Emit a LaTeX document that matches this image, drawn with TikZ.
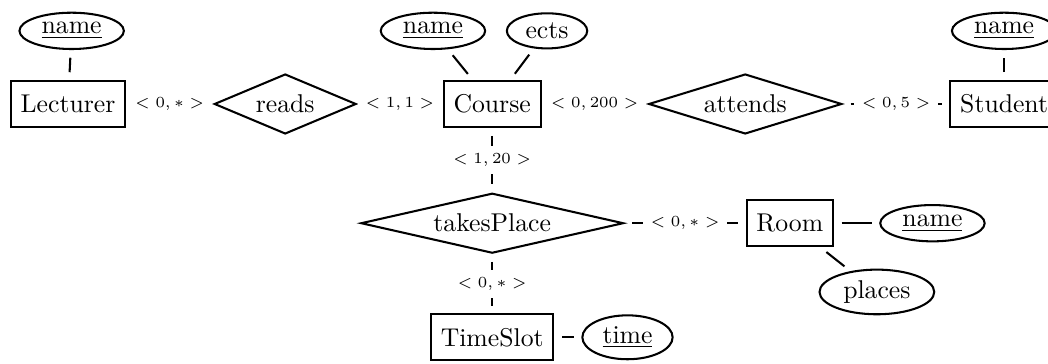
\documentclass[tikz,border=0pt]{standalone}
\usetikzlibrary{shapes.geometric}

\begin{document}
\begin{tikzpicture}[
                thick,
                node distance=3cm,
                entity/.style={rectangle, draw, minimum height=6.3mm, inner xsep=3.8pt},
                relation/.style={diamond, draw, aspect=3, inner sep=0pt, minimum height=8.2mm},
                attribute/.style={ellipse, draw, inner xsep=2.7pt, inner ysep=1.7pt},
                card/.style={fill=white, font=\fontsize{6.2}{7}\selectfont, inner sep=3pt},
                every edge/.style={draw, shorten <=3pt, shorten >=3pt}
                ]
            \useasboundingbox (-0.93,-3.542) rectangle (13.40,1.422);
            % Nodes
            \node[entity] (lecturer) {Lecturer};
            \node[relation, minimum width=19.4mm] (reads) [right of=lecturer, node distance=2.97cm] {reads};
            \node[entity] (course) [right of=reads, node distance=2.83cm] {Course};
            \node[relation, minimum width=26.4mm] (attends) [right of=course, node distance=3.46cm] {attends};
            \node[entity] (student) [right of=attends, node distance=3.54cm] {Student};
            \node[relation, minimum width=35.9mm] (takesplace) [below of=course, node distance=1.63cm] {takesPlace};
            \node[entity] (timeslot) [below of=takesplace, node distance=1.56cm] {TimeSlot};
            \node[entity] (room) [right of=takesplace, node distance=4.07cm] {Room};
            % Attributes
            \node[attribute] (lname) [above of=lecturer, node distance=1cm, xshift=0.05cm] {\underline{name}};
            \node[attribute] (cname) [above of=course, node distance=1cm, xshift=-0.81cm] {\underline{name}};
            \node[attribute] (ects) [above of=course, node distance=1cm, xshift=0.75cm] {ects};
            \node[attribute] (sname) [above of=student, node distance=1cm] {\underline{name}};
            \node[attribute] (rname) [right of=room, node distance=1.95cm] {\underline{name}};
            \node[attribute] (places) [below of=room, node distance=0.94cm, xshift=1.19cm] {places};
            \node[attribute] (time) [right of=timeslot, node distance=1.85cm] {\underline{time}};
            % Edges
            \path
            (lecturer) edge node[card] {$<0,*>$} (reads)
            (reads) edge node[card] {$<1,1>$} (course)
            (course) edge node[card] {$<0,200>$} (attends)
            (attends) edge node[card] {$<0,5>$} (student)
            (course) edge node[card] {$<1,20>$} (takesplace)
            (takesplace) edge node[card] {$<0,*>$} (timeslot)
            (takesplace) edge node[card] {$<0,*>$} (room)
            (lecturer) edge (lname)
            (course) edge (cname)
            (course) edge (ects)
            (student) edge (sname)
            (room) edge (rname)
            (room) edge (places)
            (timeslot) edge (time);

            \end{tikzpicture}
\end{document}
